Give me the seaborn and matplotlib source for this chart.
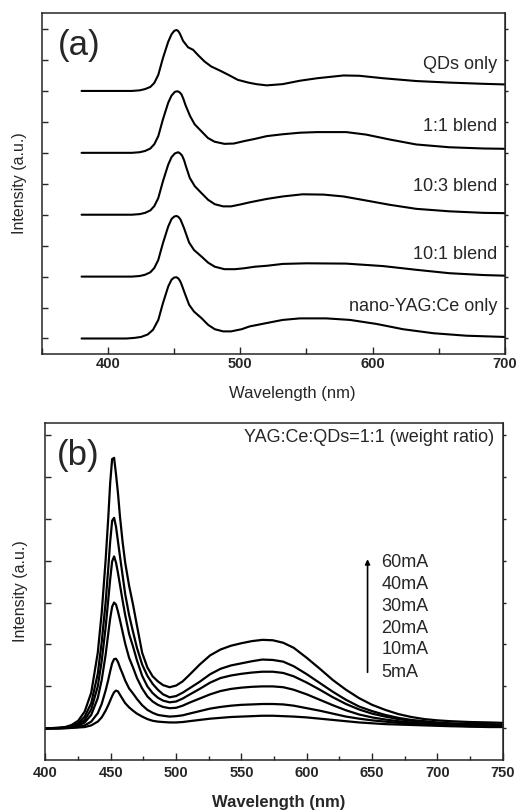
"""
PL spectra: (a) blends at fixed current, (b) 1:1 blend at different drive currents
"""
import matplotlib
matplotlib.use('Agg')
import matplotlib.pyplot as plt
from matplotlib.ticker import MultipleLocator
import seaborn as sns
import pandas as pd

sns.set_style("ticks")
plt.rcParams['font.family'] = ['Liberation Sans', 'DejaVu Sans']

# ---------------- panel (a): normalised spectra, stacked ----------------
labels_a = ['QDs only', '1:1 blend', '10:3 blend', '10:1 blend', 'nano-YAG:Ce only']
offsets_a = [8, 6, 4, 2, 0]

wl_qds = [380, 400, 418, 424, 428, 432, 435, 438, 441.5, 445.5, 448, 450, 451.7, 453, 454.2, 455.5,
          456.7, 460.5, 464.3, 468, 473, 478, 484.5, 491, 498, 506, 512, 520, 532, 545, 558, 578,
          590, 608, 633, 658, 684, 700]
int_qds = [0, 0, 0, 0.02, 0.06, 0.13, 0.26, 0.52, 1.06, 1.59, 1.83, 1.94, 1.97, 1.94, 1.86, 1.74,
           1.62, 1.41, 1.33, 1.16, 0.95, 0.79, 0.66, 0.52, 0.36, 0.27, 0.22, 0.18, 0.22, 0.33, 0.41,
           0.50, 0.49, 0.41, 0.32, 0.27, 0.23, 0.21]

wl_11 = [380, 400, 418, 424, 428, 432, 435, 438, 441.5, 445.5, 448, 450.5, 452.5, 454, 455.5, 457,
         458.5, 462, 465.5, 470.5, 475.5, 480.5, 488, 495, 503, 511, 520, 532, 545, 558, 580, 595,
         613, 633, 658, 684, 700]
int_11 = [0, 0, 0, 0.02, 0.06, 0.14, 0.28, 0.54, 1.08, 1.62, 1.85, 1.97, 1.99, 1.96, 1.89, 1.74,
          1.55, 1.19, 0.92, 0.70, 0.48, 0.36, 0.29, 0.30, 0.38, 0.45, 0.54, 0.60, 0.65, 0.67, 0.67,
          0.59, 0.43, 0.27, 0.18, 0.14, 0.13]

wl_103 = [380, 400, 418, 424, 428, 432, 435, 438, 441.5, 445.5, 448, 450.5, 453, 454.5, 456, 457.5,
          459, 461.8, 465.6, 470.6, 475.7, 480.7, 487, 493, 501, 507, 520, 532, 547, 563, 578, 595,
          613, 633, 658, 684, 700]
int_103 = [0, 0, 0, 0.02, 0.06, 0.14, 0.28, 0.54, 1.08, 1.62, 1.86, 1.98, 2.02, 1.98, 1.91, 1.76,
           1.55, 1.19, 0.92, 0.70, 0.48, 0.34, 0.27, 0.27, 0.34, 0.40, 0.51, 0.59, 0.66, 0.65, 0.59,
           0.46, 0.32, 0.19, 0.11, 0.06, 0.05]

wl_101 = [380, 400, 418, 424, 428, 432, 435, 438, 441.5, 445.5, 448, 450, 451.7, 453.2, 454.7, 456,
          457.5, 461.3, 465, 470.6, 475.7, 480.7, 488, 496, 503, 511, 520, 532, 550, 580, 608, 633,
          658, 684, 700]
int_101 = [0, 0, 0, 0.02, 0.06, 0.14, 0.28, 0.54, 1.08, 1.62, 1.86, 1.94, 1.96, 1.93, 1.85, 1.72,
           1.56, 1.10, 0.86, 0.65, 0.45, 0.32, 0.24, 0.24, 0.27, 0.32, 0.35, 0.41, 0.43, 0.42, 0.34,
           0.22, 0.11, 0.05, 0.03]

wl_yag = [380, 400, 414, 420, 425, 430, 434, 438, 441.5, 445.5, 448, 450, 451.7, 453.2, 454.7, 456,
          457.5, 461.3, 465, 470.6, 475.7, 480.7, 487, 493, 501, 507, 520, 532, 545, 565, 583, 603,
          623, 646, 671, 700]
int_yag = [0, 0, 0, 0.02, 0.05, 0.13, 0.28, 0.60, 1.14, 1.68, 1.90, 1.97, 1.98, 1.94, 1.84, 1.70,
           1.52, 1.09, 0.87, 0.66, 0.44, 0.30, 0.23, 0.23, 0.30, 0.39, 0.50, 0.60, 0.65, 0.65, 0.60,
           0.47, 0.30, 0.17, 0.09, 0.05]

# ---------------- panel (b): 1:1 blend vs drive current ----------------
currents = ['60mA', '40mA', '30mA', '20mA', '10mA', '5mA']
wl_b = [400, 410, 415, 420, 425, 430, 435, 440, 443, 446, 448, 449.5, 451, 452.5, 454, 455.5, 457,
        459, 461, 464, 467, 470, 474, 478, 482, 486, 490, 495, 500, 505, 510, 518, 526, 534, 542,
        550, 558, 566, 574, 582, 590, 600, 610, 620, 630, 640, 650, 660, 670, 680, 690, 700, 710,
        725, 740, 750]
i_60 = [0, 0.01, 0.03, 0.08, 0.18, 0.40, 0.85, 1.80, 2.75, 4.00, 5.00, 5.85, 6.42, 6.45, 6.05,
        5.60, 5.05, 4.45, 3.95, 3.40, 2.95, 2.45, 1.80, 1.45, 1.24, 1.12, 1.03, 0.98, 1.02, 1.12,
        1.27, 1.52, 1.74, 1.88, 1.97, 2.03, 2.08, 2.11, 2.10, 2.04, 1.92, 1.68, 1.42, 1.15, 0.92,
        0.72, 0.56, 0.44, 0.34, 0.27, 0.22, 0.19, 0.17, 0.15, 0.14, 0.13]
i_40 = [0, 0.01, 0.02, 0.05, 0.12, 0.28, 0.60, 1.30, 2.05, 3.00, 3.80, 4.45, 4.95, 5.02, 4.80,
        4.45, 4.10, 3.65, 3.20, 2.70, 2.30, 1.92, 1.52, 1.25, 1.06, 0.92, 0.81, 0.74, 0.77, 0.85,
        0.95, 1.11, 1.29, 1.42, 1.50, 1.55, 1.60, 1.64, 1.63, 1.59, 1.48, 1.29, 1.08, 0.87, 0.68,
        0.52, 0.41, 0.32, 0.25, 0.20, 0.17, 0.14, 0.12, 0.11, 0.10, 0.09]
i_30 = [0, 0.01, 0.02, 0.04, 0.09, 0.20, 0.45, 1.00, 1.60, 2.40, 3.05, 3.55, 3.98, 4.10, 3.95,
        3.70, 3.42, 3.05, 2.70, 2.25, 1.95, 1.62, 1.25, 1.00, 0.84, 0.73, 0.66, 0.62, 0.64, 0.71,
        0.80, 0.94, 1.09, 1.20, 1.26, 1.30, 1.33, 1.35, 1.35, 1.32, 1.24, 1.09, 0.92, 0.74, 0.58,
        0.45, 0.35, 0.28, 0.22, 0.18, 0.15, 0.12, 0.10, 0.09, 0.08, 0.07]
i_20 = [0, 0, 0.01, 0.03, 0.06, 0.14, 0.32, 0.72, 1.15, 1.75, 2.25, 2.62, 2.90, 3.00, 2.95, 2.78,
        2.58, 2.30, 2.02, 1.68, 1.45, 1.20, 0.95, 0.76, 0.64, 0.56, 0.51, 0.48, 0.49, 0.54, 0.61,
        0.71, 0.81, 0.89, 0.94, 0.97, 0.99, 1.00, 1.00, 0.98, 0.92, 0.81, 0.68, 0.55, 0.43, 0.33,
        0.26, 0.21, 0.17, 0.14, 0.11, 0.09, 0.08, 0.07, 0.06, 0.05]
i_10 = [0, 0, 0.01, 0.02, 0.03, 0.07, 0.16, 0.36, 0.58, 0.90, 1.15, 1.36, 1.55, 1.65, 1.66, 1.58,
        1.45, 1.30, 1.14, 0.95, 0.83, 0.70, 0.55, 0.44, 0.37, 0.32, 0.30, 0.28, 0.29, 0.31, 0.35,
        0.41, 0.47, 0.51, 0.54, 0.56, 0.57, 0.58, 0.58, 0.57, 0.54, 0.48, 0.42, 0.35, 0.28, 0.23,
        0.19, 0.16, 0.13, 0.11, 0.09, 0.08, 0.07, 0.05, 0.05, 0.04]
i_5 = [0, 0, 0, 0.01, 0.02, 0.03, 0.07, 0.16, 0.26, 0.42, 0.55, 0.66, 0.77, 0.86, 0.90, 0.88,
       0.80, 0.70, 0.60, 0.50, 0.42, 0.35, 0.28, 0.22, 0.18, 0.16, 0.15, 0.14, 0.14, 0.15, 0.17,
       0.20, 0.23, 0.25, 0.27, 0.28, 0.29, 0.30, 0.30, 0.29, 0.28, 0.26, 0.23, 0.20, 0.17, 0.14,
       0.12, 0.10, 0.09, 0.08, 0.07, 0.06, 0.05, 0.04, 0.03, 0.03]

# long tables for seaborn
series_a = [(wl_qds, int_qds), (wl_11, int_11), (wl_103, int_103), (wl_101, int_101), (wl_yag, int_yag)]
rows = []
for lab, off, (w, v) in zip(labels_a, offsets_a, series_a):
    for x, y in zip(w, v):
        rows.append({'wl': x, 'val': y + off, 'sample': lab})
df_a = pd.DataFrame(rows)

rows = []
for cur, v in zip(currents, [i_60, i_40, i_30, i_20, i_10, i_5]):
    for x, y in zip(wl_b, v):
        rows.append({'wl': x, 'val': y, 'current': cur})
df_b = pd.DataFrame(rows)

fig = plt.figure(figsize=(5.17, 8.10), dpi=100)
ax1 = fig.add_axes([0.081, 0.563, 0.8956, 0.421])
ax2 = fig.add_axes([0.088, 0.0617, 0.8845, 0.416])

sns.lineplot(data=df_a, x='wl', y='val', hue='sample', palette=['black'] * 5, legend=False,
             linewidth=1.5, ax=ax1, estimator=None, solid_joinstyle='round')
sns.lineplot(data=df_b, x='wl', y='val', hue='current', palette=['black'] * 6, legend=False,
             linewidth=1.6, ax=ax2, estimator=None, solid_joinstyle='round')

for ax in (ax1, ax2):
    for s in ax.spines.values():
        s.set_linewidth(1.1)
        s.set_visible(True)
    ax.tick_params(axis='y', which='major', direction='in', length=4.5, width=1, left=True, right=False)
    ax.tick_params(axis='x', which='both', direction='in', width=1, top=False, bottom=True)

# panel (a)
ax1.set_xlim(350, 700)
ax1.set_ylim(-0.5, 10.52)
ax1.xaxis.set_major_locator(MultipleLocator(100))
ax1.xaxis.set_minor_locator(MultipleLocator(50))
ax1.yaxis.set_major_locator(MultipleLocator(1))
ax1.set_yticklabels([])
ax1.tick_params(axis='x', which='major', length=5, pad=2.5, labelsize=10.5)
ax1.tick_params(axis='x', which='minor', length=4)
for lbl in ax1.get_xticklabels():
    lbl.set_fontweight('bold')
ax1.set_xlabel('Wavelength (nm)', fontsize=12)
ax1.set_ylabel('Intensity (a.u.)', fontsize=11.5)
ax1.xaxis.set_label_coords(0.54, -0.094)
ax1.yaxis.set_label_coords(-0.032, 0.5)
sec1 = ax1.secondary_yaxis('right')
sec1.set_yticks(range(0, 11))
sec1.tick_params(direction='out', length=2, width=1, labelright=False)

ax1.text(0.035, 0.905, '(a)', transform=ax1.transAxes, fontsize=25, va='center', ha='left')
label_y = [8.84, 6.85, 4.91, 2.71, 1.04]
for lab, yy in zip(labels_a, label_y):
    ax1.text(694, yy, lab, fontsize=13, ha='right', va='center')

# panel (b)
ax2.set_xlim(400, 750)
ax2.set_ylim(-0.756, 7.28)
ax2.xaxis.set_major_locator(MultipleLocator(50))
ax2.xaxis.set_minor_locator(MultipleLocator(25))
ax2.yaxis.set_major_locator(MultipleLocator(1))
ax2.set_yticklabels([])
ax2.tick_params(axis='x', which='major', length=5, pad=4, labelsize=10.5)
ax2.tick_params(axis='x', which='minor', length=3)
for lbl in ax2.get_xticklabels():
    lbl.set_fontweight('bold')
ax2.set_xlabel('Wavelength (nm)', fontsize=12, fontweight='bold')
ax2.set_ylabel('Intensity (a.u.)', fontsize=11.5)
ax2.xaxis.set_label_coords(0.51, -0.104)
ax2.yaxis.set_label_coords(-0.039, 0.5)
sec2 = ax2.secondary_yaxis('right')
sec2.set_yticks(range(0, 8))
sec2.tick_params(direction='out', length=2, width=1, labelright=False)

ax2.text(0.025, 0.905, '(b)', transform=ax2.transAxes, fontsize=25, va='center', ha='left')
ax2.text(743, 6.93, 'YAG:Ce:QDs=1:1 (weight ratio)', fontsize=13, ha='right', va='center')
cur_y = [3.95, 3.42, 2.90, 2.39, 1.87, 1.34]
for cur, yy in zip(currents, cur_y):
    ax2.text(657, yy, cur, fontsize=13, ha='left', va='center')
ax2.annotate('', xy=(646.5, 4.10), xytext=(646.5, 1.27),
             arrowprops=dict(arrowstyle='-|>', color='black', lw=1.2, mutation_scale=7))

plt.savefig('out.png', dpi=100)
plt.close()
